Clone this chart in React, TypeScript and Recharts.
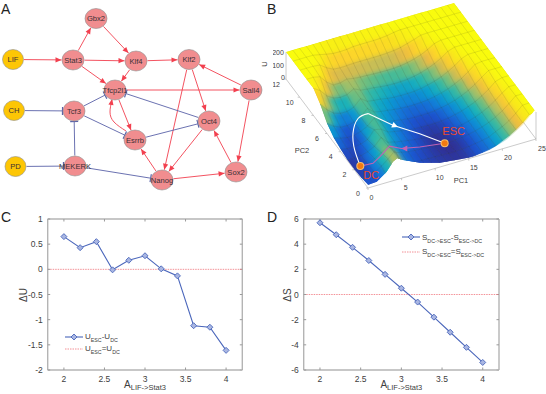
import React from "react"
import {
  LineChart,
  Line,
  ScatterChart,
  Scatter,
  XAxis,
  YAxis,
  ReferenceLine,
} from "recharts"

// ---------- panel A: network ----------
const nodeList = [
  { name: "LIF", x: 13, y: 59.5, kind: "input" },
  { name: "Stat3", x: 73, y: 60, kind: "gene" },
  { name: "Gbx2", x: 96, y: 18.5, kind: "gene" },
  { name: "Klf4", x: 136, y: 61, kind: "gene" },
  { name: "Klf2", x: 189, y: 59.5, kind: "gene" },
  { name: "Tfcp2l1", x: 115, y: 90, kind: "gene" },
  { name: "Sall4", x: 251, y: 90, kind: "gene" },
  { name: "CH", x: 14, y: 110.5, kind: "input" },
  { name: "Tcf3", x: 74, y: 111, kind: "gene" },
  { name: "Oct4", x: 209, y: 121, kind: "gene" },
  { name: "Esrrb", x: 135, y: 140, kind: "gene" },
  { name: "PD", x: 15.5, y: 166.5, kind: "input" },
  { name: "MEKERK", x: 75, y: 166, kind: "gene" },
  { name: "Sox2", x: 236, y: 172, kind: "gene" },
  { name: "Nanog", x: 162, y: 180, kind: "gene" },
]
const activations = [
  ["LIF", "Stat3"], ["Stat3", "Gbx2"], ["Gbx2", "Klf4"], ["Stat3", "Klf4"],
  ["Klf4", "Klf2"], ["Stat3", "Tfcp2l1"], ["Klf4", "Tfcp2l1"], ["Tfcp2l1", "Sall4"],
  ["Sall4", "Klf2"], ["Klf2", "Oct4"], ["Klf2", "Nanog"], ["Sall4", "Sox2"],
  ["Sox2", "Oct4"], ["Oct4", "Nanog"], ["Nanog", "Sox2"], ["Nanog", "Esrrb"],
  ["Tfcp2l1", "Esrrb"],
]
const inhibitions = [
  ["CH", "Tcf3"], ["Tcf3", "Tfcp2l1"], ["Tcf3", "Esrrb"], ["Oct4", "Tfcp2l1"],
  ["Esrrb", "Oct4"], ["PD", "MEKERK"], ["MEKERK", "Tcf3"], ["MEKERK", "Nanog"],
]
const curvedEdge = [
  { x: 126, y: 131 }, { x: 114, y: 122 }, { x: 110, y: 112 }, { x: 112, y: 100 },
]

// ---------- panel B: landscape ----------
const pc1Ticks = [0, 5, 10, 15, 20, 25]
const pc2Ticks = [0, 2, 4, 6, 8, 10, 12]
const uTicks = [0, 100, 200]
// rows run from PC2 = 12 down to PC2 = 0, columns from PC1 = 0 to 25
const landscape = [
  [200,200,200,200,200,200,200,200,200,200,200,200,200,200,200,200,200,200,200,200,200,200,200,200,200,200],
  [200,200,200,200,190,178,170,168,170,177,178,178,178,180,185,195,200,200,200,200,200,200,200,200,200,200],
  [200,200,200,195,160,135,130,132,135,135,135,135,135,138,142,150,165,180,198,200,200,200,200,200,200,200],
  [200,200,190,135,100,100,115,105,100,98,95,93,92,93,97,105,118,134,158,188,200,200,200,200,200,200],
  [200,170,115,85,75,80,110,85,78,74,67,62,60,61,64,72,84,100,121,148,183,200,200,200,200,200],
  [150,95,55,38,38,55,105,70,62,57,48,42,40,40,42,49,60,73,91,116,144,181,200,200,200,200],
  [75,40,18,14,26,50,100,58,48,41,33,28,24,24,27,32,41,54,69,91,117,152,192,200,200,200],
  [35,18,8,10,24,50,95,52,40,32,23,16,13,13,14,18,27,38,52,72,96,127,164,200,200,200],
  [18,8,6,14,32,90,80,45,33,24,15,10,7,6,7,10,16,27,40,58,80,108,142,185,200,200],
  [5,5,9,24,48,100,50,38,28,20,12,7,3,2,3,6,11,20,32,48,69,95,129,168,200,200],
  [4,3,14,40,70,105,40,28,18,13,9,5,2,1,1,3,8,16,27,42,61,86,117,156,200,200],
  [10,6,18,50,90,135,35,20,10,8,6,4,3,1,1,3,8,15,24,35,60,83,112,152,198,200],
  [25,10,12,30,70,130,60,25,12,8,6,5,4,4,4,6,10,17,25,36,61,84,114,150,196,200],
]
// the lower rim of the surface as it lies on the panel (panel x, panel y)
const rimX = [92, 103.7, 113.7, 120, 124.3, 130, 147, 167, 187, 200, 216.7, 233.3, 250, 261.7]
const rimY = [186, 181.7, 171.7, 161.7, 158.3, 160, 162.7, 162.7, 159.3, 156.7, 150, 140, 125, 110]
const parula = ["#352a87", "#1d50cc", "#1478d8", "#0a9cd0", "#1fb4b4", "#5dbd88", "#aebf63", "#ecba43", "#fcd22c", "#f8e81a", "#f9fb0e"]
const pathUp = [
  { pc1: 1.01, pc2: 2.12, u: 5 }, { pc1: 1.61, pc2: 3.53, u: 20 }, { pc1: 2.87, pc2: 5.02, u: 25 },
  { pc1: 4.55, pc2: 5.93, u: 50 }, { pc1: 5.72, pc2: 5.62, u: 90 },
]
const pathDown = [
  { pc1: 5.72, pc2: 5.62, u: 90 }, { pc1: 8.18, pc2: 4.39, u: 50 }, { pc1: 10.98, pc2: 3.23, u: 25 },
  { pc1: 13.4, pc2: 1.96, u: 5 },
]
const pathBack = [
  { pc1: 13.4, pc2: 1.96, u: 5 }, { pc1: 9.82, pc2: 2.09, u: 20 }, { pc1: 7.25, pc2: 2.26, u: 35 },
  { pc1: 5.56, pc2: 2.3, u: 75 }, { pc1: 3.67, pc2: 1.9, u: 50 }, { pc1: 2.5, pc2: 1.73, u: 30 },
  { pc1: 1.01, pc2: 2.12, u: 5 },
]
const attractors = [
  { pc1: 13.4, pc2: 1.96, u: 5, name: "ESC", dx: 9, dy: -12 },
  { pc1: 1.01, pc2: 2.12, u: 5, name: "DC", dx: 11, dy: 9 },
]

// ---------- panels C and D ----------
const strengths = [2, 2.2, 2.4, 2.6, 2.8, 3, 3.2, 3.4, 3.6, 3.8, 4]
const deltaU = [0.65, 0.43, 0.55, -0.01, 0.18, 0.27, 0.01, -0.13, -1.12, -1.15, -1.61]
const deltaS = [5.7, 4.75, 3.75, 2.7, 1.6, 0.5, -0.6, -1.8, -3, -4.2, -5.4]
const strengthTicks = [2, 2.5, 3, 3.5, 4]
const deltaUTicks = [-2, -1.5, -1, -0.5, 0, 0.5, 1]
const deltaSTicks = [-6, -4, -2, 0, 2, 4, 6]

const FONT = "Liberation Sans, Arial, sans-serif"
const TEXT = "#404040"
const RED = "#f2404f"
const BLUE = "#5a62a8"

// shared 1:1 canvas: axis units are the panel's own pixels
function Canvas({ w, h, left, top, style, children }: any) {
  return (
    <div style={{ position: "absolute", left, top, width: w, height: h, ...style }}>
      <ScatterChart width={w} height={h} margin={{ top: 0, right: 0, bottom: 0, left: 0 }}>
        <XAxis type="number" dataKey="x" domain={[0, w]} hide />
        <YAxis type="number" dataKey="y" domain={[0, h]} reversed hide />
        {children}
      </ScatterChart>
    </div>
  )
}

const noMark = () => <g />

const arrowHead = (color: string, size = 6, wide = 2.6) => (p: any) => (
  <polygon
    points={`0,0 ${-size},${-wide} ${-size},${wide}`}
    fill={color}
    transform={`translate(${p.cx},${p.cy}) rotate(${p.payload.angle ?? 0})`}
  />
)

const tBar = (p: any) => (
  <line
    x1={0} y1={-4} x2={0} y2={4}
    stroke={BLUE} strokeWidth={1.2}
    transform={`translate(${p.cx},${p.cy}) rotate(${p.payload.angle ?? 0})`}
  />
)

function edgePoints(fromName: string, toName: string) {
  const a = nodeList.find((n) => n.name === fromName)!
  const b = nodeList.find((n) => n.name === toName)!
  const len = Math.hypot(b.x - a.x, b.y - a.y)
  const ux = (b.x - a.x) / len
  const uy = (b.y - a.y) / len
  const rim = (n: any) => {
    const [rx, ry] = n.kind === "input" ? [11, 10] : [11.5, 10.5]
    return 1 / Math.hypot(ux / rx, uy / ry)
  }
  const angle = (Math.atan2(uy, ux) * 180) / Math.PI
  return [
    { x: a.x + ux * rim(a), y: a.y + uy * rim(a), angle, end: false },
    { x: b.x - ux * rim(b), y: b.y - uy * rim(b), angle, end: true },
  ]
}

const nodeShape = (p: any) => {
  const input = p.payload.kind === "input"
  return (
    <g>
      <ellipse
        cx={p.cx} cy={p.cy}
        rx={input ? 10.5 : 11} ry={10}
        fill={input ? "#fdc605" : "#f18d8f"}
        stroke="#8f8f8f" strokeWidth={0.6}
      />
      <text x={p.cx} y={p.cy + 2.7} textAnchor="middle" fontSize={7.6} fontFamily={FONT} fill="#3a3035">
        {p.payload.name}
      </text>
    </g>
  )
}

const rotatedLetter = (p: any) => (
  <text x={p.cx} y={p.cy} textAnchor="middle" fontSize={7.5} fontFamily={FONT} fill={TEXT} transform={`rotate(-90 ${p.cx} ${p.cy})`}>
    {p.payload.label}
  </text>
)

function NetworkPanel() {
  return (
    <Canvas w={273} h={200} left={0} top={0}>
      {activations.map(([a, b]) => (
        <Scatter key={a + b} data={edgePoints(a, b)} line={{ stroke: RED, strokeWidth: 0.9 }}
          shape={(p: any) => (p.payload.end ? arrowHead(RED)(p) : <g />)}
          isAnimationActive={false} />
      ))}
      {inhibitions.map(([a, b]) => (
        <Scatter key={a + b} data={edgePoints(a, b)} line={{ stroke: BLUE, strokeWidth: 0.9 }}
          shape={(p: any) => (p.payload.end ? tBar(p) : <g />)}
          isAnimationActive={false} />
      ))}
      <Scatter data={curvedEdge} line={{ stroke: RED, strokeWidth: 0.9 }} lineJointType="natural"
        shape={noMark} isAnimationActive={false} />
      <Scatter data={[{ x: 112, y: 99, angle: -80 }]} shape={arrowHead(RED)} isAnimationActive={false} />
      <Scatter data={nodeList} shape={nodeShape} isAnimationActive={false} />
      <Scatter data={[{ x: 266.5, y: 64, label: "U" }]} shape={rotatedLetter} isAnimationActive={false} />
    </Canvas>
  )
}

// ---------- projection of the landscape onto the panel ----------
const project = (pc1: number, pc2: number, u: number) => ({
  x: 95 + 6.72 * pc1 - 6.83 * pc2,
  y: 188 - 1.96 * pc1 - 9.08 * pc2 - 0.135 * u,
})
const uAt = (i: number, j: number) => landscape[12 - j][i]

function parulaColor(u: number) {
  const t = Math.pow(Math.min(u, 200) / 200, 0.8) * (parula.length - 1)
  const k = Math.min(Math.floor(t), parula.length - 2)
  const f = t - k
  const rgb = (s: string) => [1, 3, 5].map((n) => parseInt(s.slice(n, n + 2), 16))
  const c0 = rgb(parula[k])
  const c1 = rgb(parula[k + 1])
  return `rgb(${c0.map((v, n) => Math.round(v + (c1[n] - v) * f)).join(",")})`
}

// back cells first so the nearer ones paint over them
const cells: any[] = []
for (let j = 11; j >= 0; j--) {
  for (let i = 24; i >= 0; i--) {
    const grid = [[i, j], [i + 1, j], [i + 1, j + 1], [i, j + 1]]
    const corners = grid.map(([a, b]) => project(a, b, uAt(a, b)))
    const anchor = corners[0]
    const mean = grid.reduce((s, [a, b]) => s + uAt(a, b), 0) / 4
    cells.push({
      x: anchor.x,
      y: anchor.y,
      offsets: corners.map((c) => [c.x - anchor.x, c.y - anchor.y]),
      color: parulaColor(mean),
    })
  }
}

const outline = [
  ...rimX.map((x, k) => ({ x, y: rimY[k] })),
  ...Array.from({ length: 13 }, (_, j) => project(25, j, uAt(25, j))),
  ...Array.from({ length: 26 }, (_, i) => project(25 - i, 12, uAt(25 - i, 12))),
  ...Array.from({ length: 13 }, (_, j) => project(0, 12 - j, uAt(0, 12 - j))),
]
const outlineClip = `polygon(${outline.map((p) => `${p.x}px ${p.y}px`).join(",")})`

const cellShape = (p: any) => (
  <polygon
    points={p.payload.offsets.map(([dx, dy]: number[]) => `${p.cx + dx},${p.cy + dy}`).join(" ")}
    fill={p.payload.color}
    stroke={p.payload.color}
    strokeWidth={0.6}
  />
)
const meshShape = (p: any) => (
  <polygon
    points={p.payload.offsets.map(([dx, dy]: number[]) => `${p.cx + dx},${p.cy + dy}`).join(" ")}
    fill="none"
    stroke="#50503c"
    strokeOpacity={0.14}
    strokeWidth={0.5}
  />
)

const tickText = (p: any) => (
  <text x={p.cx} y={p.cy + 2.5} textAnchor="middle" fontSize={p.payload.size ?? 7} fontFamily={FONT} fill={TEXT}>
    {p.payload.label}
  </text>
)
const tickDash = { stroke: "#a8a8a8", strokeWidth: 0.6 }

function axisSegment(a: number[], b: number[]) {
  return [project(a[0], a[1], a[2]), project(b[0], b[1], b[2])]
}

const onPath = (rows: any[]) => rows.map((r) => project(r.pc1, r.pc2, r.u))

const markerShape = (p: any) => (
  <g>
    <circle cx={p.cx} cy={p.cy} r={4} fill="#f9c06a" />
    <circle cx={p.cx} cy={p.cy} r={3} fill="#f27a12" />
  </g>
)
const attractorLabel = (p: any) => (
  <text x={p.cx} y={p.cy + 4} textAnchor="middle" fontSize={11} fontFamily={FONT} fill="#ea4a32">
    {p.payload.name}
  </text>
)

function LandscapePanel() {
  return (
    <>
      <Canvas w={273} h={200} left={273} top={0}>
        <Scatter data={axisSegment([0, 0, 0], [25, 0, 0])} line={tickDash} shape={noMark} isAnimationActive={false} />
        <Scatter data={axisSegment([0, 0, 0], [0, 12, 0])} line={tickDash} shape={noMark} isAnimationActive={false} />
        <Scatter data={axisSegment([0, 12, 0], [0, 12, 200])} line={tickDash} shape={noMark} isAnimationActive={false} />
        <Scatter data={axisSegment([25, 0, 0], [25, 0, 200])} line={tickDash} shape={noMark} isAnimationActive={false} />
        <Scatter data={axisSegment([25, 0, 0], [25, 2, 0])} line={tickDash} shape={noMark} isAnimationActive={false} />
        {pc1Ticks.map((t) => (
          <Scatter key={t} data={[project(t, 0, 0), { x: project(t, 0, 0).x, y: project(t, 0, 0).y + 2 }]} line={tickDash} shape={noMark} isAnimationActive={false} />
        ))}
        {pc2Ticks.map((t) => (
          <Scatter key={t} data={[project(0, t, 0), { x: project(0, t, 0).x - 2, y: project(0, t, 0).y }]} line={tickDash} shape={noMark} isAnimationActive={false} />
        ))}
        <Scatter
          data={pc1Ticks.map((t) => ({ x: project(t, 0, 0).x + 3.5 + t * 0.1, y: project(t, 0, 0).y + 9, label: t }))}
          shape={tickText} isAnimationActive={false} />
        <Scatter
          data={pc2Ticks.map((t) => ({ x: project(0, t, 0).x - 10, y: project(0, t, 0).y + 5, label: t }))}
          shape={tickText} isAnimationActive={false} />
        <Scatter
          data={uTicks.map((t) => ({ x: project(0, 12, t).x - (t === 0 ? 3 : 8), y: project(0, 12, t).y + (t === 0 ? -2 : 0), label: t }))}
          shape={tickText} isAnimationActive={false} />
        <Scatter data={[{ x: 188, y: 180, label: "PC1", size: 7.5 }, { x: 29, y: 150, label: "PC2", size: 7.5 }]}
          shape={tickText} isAnimationActive={false} />
      </Canvas>
      <div style={{ position: "absolute", left: 273, top: 0, width: 273, height: 200, clipPath: outlineClip }}>
        <Canvas w={273} h={200} left={0} top={0}>
          <Scatter data={cells} shape={cellShape} isAnimationActive={false} />
        </Canvas>
        <Canvas w={273} h={200} left={0} top={0} style={{ filter: "blur(2.6px)" }}>
          <Scatter data={cells} shape={cellShape} isAnimationActive={false} />
        </Canvas>
        <Canvas w={273} h={200} left={0} top={0}>
          <Scatter data={cells} shape={meshShape} isAnimationActive={false} />
        </Canvas>
      </div>
      <Canvas w={273} h={200} left={273} top={0}>
        <Scatter data={onPath(pathUp)} line={{ stroke: "#ffffff", strokeWidth: 1.1 }} lineJointType="natural" shape={noMark} isAnimationActive={false} />
        <Scatter data={onPath(pathDown)} line={{ stroke: "#ffffff", strokeWidth: 1.1 }} shape={noMark} isAnimationActive={false} />
        <Scatter data={onPath(pathBack)} line={{ stroke: "#bf62b4", strokeWidth: 1.1 }} shape={noMark} isAnimationActive={false} />
        <Scatter data={[{ ...project(8.7, 4.18, 45), angle: 22 }]} shape={arrowHead("#ffffff", 6, 3)} isAnimationActive={false} />
        <Scatter data={[{ ...project(7.25, 2.26, 35), angle: 180 }]} shape={arrowHead("#bf62b4", 6, 3)} isAnimationActive={false} />
        <Scatter data={attractors.map((a) => project(a.pc1, a.pc2, a.u))} shape={markerShape} isAnimationActive={false} />
        <Scatter
          data={attractors.map((a) => {
            const at = project(a.pc1, a.pc2, a.u)
            return { x: at.x + a.dx, y: at.y + a.dy, name: a.name }
          })}
          shape={attractorLabel} isAnimationActive={false} />
      </Canvas>
    </>
  )
}

// ---------- line panels ----------
const diamondDot = (p: any) => (
  <polygon
    key={p.index}
    points={`${p.cx},${p.cy - 3} ${p.cx + 3},${p.cy} ${p.cx},${p.cy + 3} ${p.cx - 3},${p.cy}`}
    fill="#a9b6e2"
    stroke="#4a66bb"
    strokeWidth={0.9}
  />
)

function LinePanel({ left, values, domain, ticks, yName, legend, legendAt }: any) {
  const rows = strengths.map((s, i) => ({ s, v: values[i] }))
  const tickStyle = { fontSize: 8.5, fontFamily: FONT, fill: TEXT }
  const axisLine = { stroke: "#b4b4b4", strokeWidth: 1.4 }
  const titleX = left === 0 ? 27 : 18
  const boxLine = { stroke: "#b4b4b4", strokeWidth: 1.4, ifOverflow: "visible" as const }
  const tickLine = { stroke: "#9a9a9a", strokeWidth: 1, ifOverflow: "visible" as const }
  const [yMin, yMax] = domain
  const yTick = ((yMax - yMin) / 151) * 2.5
  const xTick = (2.4 / 194.6) * 2.5
  return (
    <div style={{ position: "absolute", left, top: 205, width: 273, height: 189 }}>
      <LineChart width={273} height={189} data={rows} margin={{ top: 14, right: left === 0 ? 30.7 : 47, bottom: 0, left: 0 }}>
        <XAxis
          type="number" dataKey="s" domain={[1.8, 4.2]} ticks={strengthTicks}
          height={24} tick={tickStyle} tickSize={-2.5} tickMargin={8.5} stroke="#9a9a9a"
          axisLine={axisLine}
          label={{
            content: (p: any) => (
              <text x={p.viewBox.x + p.viewBox.width / 2} y={183} textAnchor="middle" fontFamily={FONT} fill={TEXT} fontSize={10}>
                A<tspan fontSize={7.5} dy={2}>{"LIF->Stat3"}</tspan>
              </text>
            ),
          }}
        />
        <YAxis
          type="number" domain={domain} ticks={ticks} width={left === 0 ? 47.7 : 30.7}
          tick={tickStyle} tickSize={-2.5} tickMargin={7.5} stroke="#9a9a9a" axisLine={axisLine}
          interval={0}
          label={{
            content: () => (
              <text x={titleX} y={90} textAnchor="middle" fontFamily={FONT} fill={TEXT} fontSize={10} transform={`rotate(-90 ${titleX} 90)`}>
                {yName}
              </text>
            ),
          }}
        />
        <ReferenceLine y={yMax} {...boxLine} />
        <ReferenceLine x={4.2} {...boxLine} />
        {strengthTicks.map((t) => (
          <ReferenceLine key={t} segment={[{ x: t, y: yMax }, { x: t, y: yMax - yTick }]} {...tickLine} />
        ))}
        {ticks.map((t: number) => (
          <ReferenceLine key={t} segment={[{ x: 4.2, y: t }, { x: 4.2 - xTick, y: t }]} {...tickLine} />
        ))}
        <ReferenceLine y={0} stroke="#f0757c" strokeDasharray="1.5 1" strokeWidth={0.8} />
        <Line dataKey="v" stroke="#4a66bb" strokeWidth={1.1} dot={diamondDot} isAnimationActive={false} />
      </LineChart>
      {legend.map((row: any, i: number) => (
        <div key={i} style={{ position: "absolute", left: legendAt.x, top: legendAt.y + i * legendAt.gap, height: 12, whiteSpace: "nowrap", fontFamily: FONT, fontSize: 8, color: TEXT, display: "flex", alignItems: "center" }}>
          <svg width={18} height={8} style={{ marginRight: 2 }}>
            {row.solid ? (
              <>
                <line x1={0} y1={4} x2={18} y2={4} stroke="#4a66bb" strokeWidth={1.1} />
                <polygon points="9,1 12,4 9,7 6,4" fill="#a9b6e2" stroke="#4a66bb" strokeWidth={0.9} />
              </>
            ) : (
              <line x1={0} y1={4} x2={18} y2={4} stroke="#f0757c" strokeDasharray="1.5 1" strokeWidth={0.8} />
            )}
          </svg>
          <span>
            {row.parts.map((part: string, k: number) =>
              k % 2 === 0 ? <span key={k}>{part}</span> : <sub key={k} style={{ fontSize: 5.3, lineHeight: 0 }}>{part}</sub>,
            )}
          </span>
        </div>
      ))}
    </div>
  )
}

const legendC = [
  { solid: true, parts: ["U", "ESC", "-U", "DC"] },
  { solid: false, parts: ["U", "ESC", "=U", "DC"] },
]
const legendD = [
  { solid: true, parts: ["S", "DC->ESC", "-S", "ESC->DC"] },
  { solid: false, parts: ["S", "DC->ESC", "=S", "ESC->DC"] },
]

const panelLetters = [
  { t: "A", x: 1, y: 1 },
  { t: "B", x: 267, y: 1 },
  { t: "C", x: 1, y: 209 },
  { t: "D", x: 267, y: 209 },
]

export default function App() {
  return (
    <div style={{ position: "fixed", left: 0, top: 0, width: 546, height: 394, background: "#fff", overflow: "hidden" }}>
      <NetworkPanel />
      <LandscapePanel />
      <LinePanel left={0} values={deltaU} domain={[-2, 1]} ticks={deltaUTicks} yName="ΔU" legend={legendC} legendAt={{ x: 65, y: 125.5, gap: 12 }} />
      <LinePanel left={273} values={deltaS} domain={[-6, 6]} ticks={deltaSTicks} yName="ΔS" legend={legendD} legendAt={{ x: 129, y: 26, gap: 14.5 }} />
      {panelLetters.map((l) => (
        <div key={l.t} style={{ position: "absolute", left: l.x, top: l.y, fontFamily: FONT, fontSize: 14, color: "#222" }}>{l.t}</div>
      ))}
    </div>
  )
}
